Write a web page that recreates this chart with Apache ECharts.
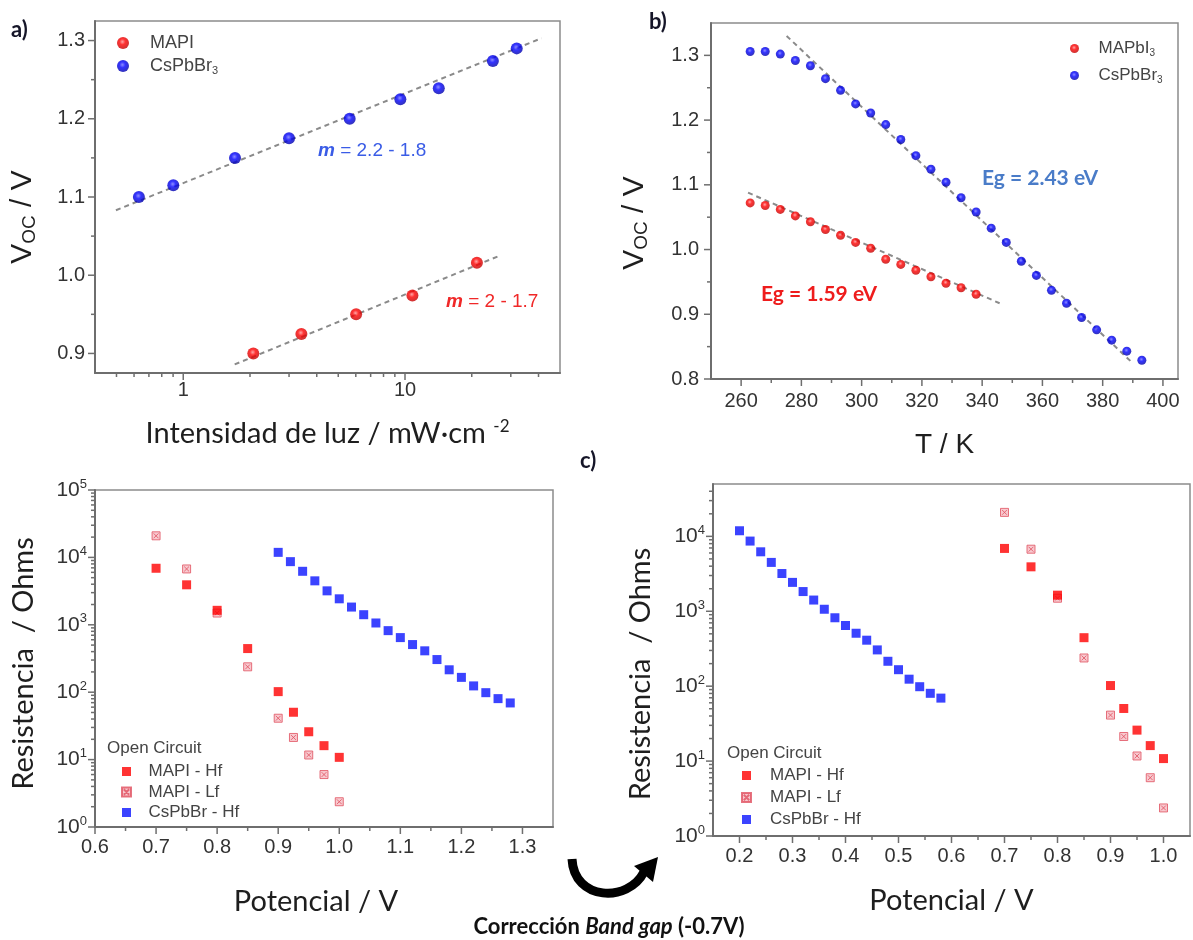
<!DOCTYPE html>
<html><head><meta charset="utf-8">
<script src="https://cdn.jsdelivr.net/npm/echarts@6/dist/echarts.min.js"></script>
<style>html,body{margin:0;padding:0;background:#fff}#c{width:1193px;height:940px}</style>
</head><body><div id="c"></div>
<script>
// ---------------- DATA ----------------
// a) Voc vs light intensity
const A_MAPI_X = [2.07, 3.41, 6.02, 10.8, 21.1];
const A_MAPI_Y = [0.900, 0.925, 0.950, 0.974, 1.016];
const A_CS_X = [0.631, 0.902, 1.712, 3.00, 5.63, 9.53, 14.2, 24.9, 31.9];
const A_CS_Y = [1.100, 1.115, 1.150, 1.175, 1.200, 1.225, 1.239, 1.274, 1.290];
const A_FIT_MAPI = [[1.706, 0.886], [27.0, 1.0255]];
const A_FIT_CS = [[0.497, 1.083], [41.3, 1.303]];

// b) Voc vs temperature
const B_T_CS = [263, 268, 273, 278, 283, 288, 293, 298, 303, 308, 313, 318, 323, 328, 333, 338, 343, 348, 353, 358, 363, 368, 373, 378, 383, 388, 393];
const B_CS = [1.306, 1.306, 1.302, 1.292, 1.284, 1.264, 1.246, 1.225, 1.211, 1.193, 1.170, 1.145, 1.124, 1.104, 1.080, 1.058, 1.033, 1.011, 0.982, 0.960, 0.937, 0.917, 0.895, 0.876, 0.860, 0.843, 0.829];
const B_T_MAPI = [263, 268, 273, 278, 283, 288, 293, 298, 303, 308, 313, 318, 323, 328, 333, 338];
const B_MAPI = [1.072, 1.068, 1.062, 1.052, 1.043, 1.031, 1.022, 1.011, 1.002, 0.985, 0.977, 0.968, 0.958, 0.948, 0.941, 0.931];
const B_FIT_CS = [[275.1, 1.330], [389.4, 0.827]];
const B_FIT_MAPI = [[262.3, 1.088], [345.8, 0.917]];

// c) Resistance vs potential
const C_MAPI_V = [0.70, 0.75, 0.80, 0.85, 0.90, 0.925, 0.95, 0.975, 1.00];
const C_MAPI_HF = [6900, 3920, 1640, 444, 102, 50.4, 25.9, 16.1, 10.8];
const C_MAPI_LF = [20900, 6740, 1494, 238, 41.1, 21.3, 11.7, 6.0, 2.37];
const C_CS_V = [0.90, 0.92, 0.94, 0.96, 0.98, 1.00, 1.02, 1.04, 1.06, 1.08, 1.10, 1.12, 1.14, 1.16, 1.18, 1.20, 1.22, 1.24, 1.26, 1.28];
const C_CS_HF = [11880, 8650, 6220, 4490, 3190, 2430, 1833, 1412, 1064, 819, 646, 509, 411, 305, 215, 166, 124, 98.4, 80.3, 69.3];
const BAND_GAP_SHIFT = 0.7; // "Corrección Band gap (-0.7V)"

// tick values
const A_X_MAJOR = [1, 10];
const A_X_MINOR = [0.5, 0.6, 0.7, 0.8, 0.9, 2, 3, 4, 5, 6, 7, 8, 9, 20, 30, 40];
const A_Y_MAJOR = [0.9, 1.0, 1.1, 1.2, 1.3];
const A_Y_MINOR = [0.95, 1.05, 1.15, 1.25];
const B_X_MAJOR = [260, 280, 300, 320, 340, 360, 380, 400];
const B_X_MINOR = [270, 290, 310, 330, 350, 370, 390];
const B_Y_MAJOR = [0.8, 0.9, 1.0, 1.1, 1.2, 1.3];
const B_Y_MINOR = [0.85, 0.95, 1.05, 1.15, 1.25];
const C1_X_MAJOR = [0.6, 0.7, 0.8, 0.9, 1.0, 1.1, 1.2, 1.3];
const C1_X_MINOR = [0.65, 0.75, 0.85, 0.95, 1.05, 1.15, 1.25];
const C2_X_MAJOR = [0.2, 0.3, 0.4, 0.5, 0.6, 0.7, 0.8, 0.9, 1.0];
const C2_X_MINOR = [0.25, 0.35, 0.45, 0.55, 0.65, 0.75, 0.85, 0.95];
const C1_Y_MAJOR = [1, 10, 100, 1000, 10000, 100000];
const C2_Y_MAJOR = [1, 10, 100, 1000, 10000];
const LOG_MINOR_MULT = [2, 3, 4, 5, 6, 7, 8, 9];
const C1_Y_MINOR = [1, 10, 100, 1000, 10000].flatMap(d => LOG_MINOR_MULT.map(m => m * d));
const C2_Y_MINOR = [1, 10, 100, 1000].flatMap(d => LOG_MINOR_MULT.map(m => m * d)).concat([20000, 30000, 40000]);

// axis ranges
const A_XR = [0.4, 50], A_YR = [0.875, 1.325];
const B_XR = [250, 405], B_YR = [0.8, 1.35];
const C1_XR = [0.6, 1.35], C1_YR = [1, 100000];
const C2_XR = [0.15, 1.05], C2_YR = [1, 50000];

// ---------------- STYLE ----------------
const ARIAL = '"Liberation Sans", Arial, sans-serif';
const CAL = 'Lato, "Open Sans", sans-serif';
const AX = '#6e6e6e';
const LBL = '#333';
const TITLE = '#1e1e1e';

const zip = (xs, ys) => xs.map((x, i) => [x, ys[i]]);
const sphere = (hi, mid, dark) => ({type: 'radial', x: 0.45, y: 0.4, r: 0.6,
  colorStops: [{offset: 0, color: hi}, {offset: 0.4, color: mid}, {offset: 1, color: dark}]});
const RED_SPH = sphere('#ff9090', '#ff0000', '#c00000');
const BLUE_SPH = sphere('#7070ff', '#0000ff', '#0000a8');

const dec1 = v => (Math.abs(v * 10 - Math.round(v * 10)) < 1e-6 ? v.toFixed(1) : '');
const pow10Label = v => { const e = Math.log10(v), r = Math.round(e); return Math.abs(e - r) < 1e-6 ? '{b|10}{s|' + r + '}' : ''; };
const LOG_RICH = {b: {fontSize: 21, fontFamily: ARIAL, color: LBL}, s: {fontSize: 13, fontFamily: ARIAL, color: LBL, padding: [0, 0, 12, 0]}};

function axis(o) {
  return Object.assign({
    axisLine: {show: true, onZero: false, lineStyle: {color: AX, width: 2}},
    axisTick: {show: false}, splitLine: {show: false}, minorTick: {show: false},
    nameLocation: 'middle'
  }, o, {
    axisLabel: Object.assign({color: LBL, fontFamily: ARIAL, fontSize: 20, interval: 0}, o.axisLabel || {})
  });
}

function tickSeries(idx, xMaj, xMin, yMaj, yMin, xr, yr) {
  const d = [];
  xMaj.forEach(v => d.push([v, yr[0], 7, 0]));
  xMin.forEach(v => d.push([v, yr[0], 4, 0]));
  yMaj.forEach(v => d.push([xr[0], v, 7, 1]));
  yMin.forEach(v => d.push([xr[0], v, 4, 1]));
  return {
    type: 'custom', xAxisIndex: idx, yAxisIndex: idx, silent: true, clip: false, z: 4,
    data: d,
    renderItem: (p, api) => {
      const c = api.coord([api.value(0), api.value(1)]);
      const L = api.value(2), onX = api.value(3) === 0;
      return {type: 'line',
        shape: onX ? {x1: c[0], y1: c[1], x2: c[0], y2: c[1] + L} : {x1: c[0], y1: c[1], x2: c[0] - L, y2: c[1]},
        style: {stroke: AX, lineWidth: 1.5}};
    }
  };
}

const fitLine = (idx, pts) => ({type: 'line', xAxisIndex: idx, yAxisIndex: idx, data: pts, symbol: 'none', silent: true, z: 2,
  lineStyle: {color: '#8a8a8a', width: 2, type: [5, 4]}});

const SQ_SYMBOL = 'path://M0,0L10,0L10,10L0,10Z';
const LF_SYMBOL = 'path://M0,0L10,0L10,10L0,10Z M2,2L8,8 M8,2L2,8';
const HF_STYLE = {color: '#ff0000'};
const LF_STYLE = {color: '#f6bcc3', borderColor: '#e0505f', borderWidth: 1};
const CS_STYLE = {color: '#0a14ff'};

const LEGEND_TEXT = {
  'MAPI': '{n|MAPI}', 'CsPbBr3': '{n|CsPbBr}{s|3}',
  'MAPbI3': '{n|MAPbI}{s|3}', 'CsPbBr3 (T)': '{n|CsPbBr}{s|3}'
};
const legRich = (fs) => ({n: {fontSize: fs, fontFamily: ARIAL, color: '#444'},
  s: {fontSize: Math.round(fs * 0.6), fontFamily: ARIAL, color: '#444', padding: [Math.round(fs * 0.55), 0, 0, 0]}});
const VOC_RICH = {v: {fontFamily: ARIAL, fontSize: 30, color: TITLE}, s: {fontFamily: ARIAL, fontSize: 19, color: TITLE, padding: [13, 0, 0, 0]}};

const option = {
  animation: false,
  backgroundColor: '#fff',
  grid: [
    {left: 95, top: 21, width: 465, height: 352, show: true, borderColor: '#8c8c8c', borderWidth: 1.5},
    {left: 711, top: 23, width: 467, height: 356, show: true, borderColor: '#8c8c8c', borderWidth: 1.5},
    {left: 95, top: 490, width: 458, height: 337, show: true, borderColor: '#8c8c8c', borderWidth: 1.5},
    {left: 713, top: 484, width: 479, height: 352, show: true, borderColor: '#8c8c8c', borderWidth: 1.5}
  ],
  xAxis: [
    axis({gridIndex: 0, type: 'log', logBase: 10, min: A_XR[0], max: A_XR[1],
      axisLabel: {margin: 7, formatter: v => { const e = Math.log10(v), r = Math.round(e); return (Math.abs(e - r) < 1e-6 && (r === 0 || r === 1)) ? String(Math.round(Math.pow(10, r))) : ''; }},
      name: 'Intensidad de luz / mW·cm {sup|-2}', nameGap: 45,
      nameTextStyle: {fontFamily: CAL, fontSize: 29, color: TITLE, rich: {sup: {fontFamily: CAL, fontSize: 17, color: TITLE, padding: [0, 0, 14, 0]}}}}),
    axis({gridIndex: 1, type: 'value', min: B_XR[0], max: B_XR[1], interval: 10,
      axisLabel: {margin: 12, formatter: v => (Math.abs(v % 20) < 1e-6 && v >= 260 && v <= 400 ? String(Math.round(v)) : '')},
      name: 'T / K', nameGap: 52, nameTextStyle: {fontFamily: ARIAL, fontSize: 28, color: TITLE}}),
    axis({gridIndex: 2, type: 'value', min: C1_XR[0], max: C1_XR[1], interval: 0.05,
      axisLabel: {margin: 10, formatter: dec1},
      name: 'Potencial / V', nameGap: 60, nameTextStyle: {fontFamily: CAL, fontSize: 29, color: TITLE, padding: [0, 16, 0, 0]}}),
    axis({gridIndex: 3, type: 'value', min: C2_XR[0], max: C2_XR[1], interval: 0.05,
      axisLabel: {margin: 10, formatter: dec1},
      name: 'Potencial / V', nameGap: 50, nameTextStyle: {fontFamily: CAL, fontSize: 29, color: TITLE}})
  ],
  yAxis: [
    axis({gridIndex: 0, type: 'value', min: A_YR[0], max: A_YR[1], interval: 0.025,
      axisLabel: {margin: 10, formatter: dec1},
      name: '{v|V}{s|OC}{v| / V}', nameGap: 56,
      nameTextStyle: {padding: [0, 40, 0, 0], rich: VOC_RICH}}),
    axis({gridIndex: 1, type: 'value', min: B_YR[0], max: B_YR[1], interval: 0.1,
      axisLabel: {margin: 12, formatter: dec1},
      name: '{v|V}{s|OC}{v| / V}', nameGap: 60,
      nameTextStyle: {padding: [0, 44, 0, 0], rich: VOC_RICH}}),
    axis({gridIndex: 2, type: 'log', logBase: 10, min: C1_YR[0], max: C1_YR[1],
      axisLabel: {margin: 8, formatter: pow10Label, rich: LOG_RICH},
      name: 'Resistencia  / Ohms', nameGap: 57, nameTextStyle: {fontFamily: CAL, fontSize: 29, color: TITLE, padding: [0, 10, 0, 0]}}),
    axis({gridIndex: 3, type: 'log', logBase: 10, min: C2_YR[0], max: C2_YR[1],
      axisLabel: {margin: 8, formatter: pow10Label, rich: LOG_RICH},
      name: 'Resistencia  / Ohms', nameGap: 58, nameTextStyle: {fontFamily: CAL, fontSize: 29, color: TITLE, padding: [0, 28, 0, 0]}})
  ],
  legend: [
    {left: 112, top: 29, orient: 'vertical', itemWidth: 44, itemHeight: 12, itemGap: 5, selectedMode: false,
      data: ['MAPI', 'CsPbBr3'], formatter: n => LEGEND_TEXT[n], textStyle: {fontSize: 18, fontFamily: ARIAL, color: '#444', rich: legRich(18)}},
    {left: 1065, top: 35, orient: 'vertical', itemWidth: 38, itemHeight: 9, itemGap: 9, selectedMode: false,
      data: ['MAPbI3', 'CsPbBr3 (T)'], formatter: n => LEGEND_TEXT[n], textStyle: {fontSize: 17, fontFamily: ARIAL, color: '#444', rich: legRich(17)}},
    {left: 116, top: 758, orient: 'vertical', itemWidth: 34, itemHeight: 9, itemGap: 3.5, selectedMode: false,
      data: ['MAPI - Hf', 'MAPI - Lf', 'CsPbBr - Hf'], textStyle: {fontSize: 17, fontFamily: ARIAL, color: '#444'}},
    {left: 736, top: 762, orient: 'vertical', itemWidth: 37, itemHeight: 9, itemGap: 5, selectedMode: false,
      data: ['MAPI - Hf', 'MAPI - Lf', 'CsPbBr - Hf'], textStyle: {fontSize: 17, fontFamily: ARIAL, color: '#444'}}
  ],
  series: [
    // a)
    fitLine(0, A_FIT_MAPI), fitLine(0, A_FIT_CS),
    {name: 'MAPI', type: 'scatter', xAxisIndex: 0, yAxisIndex: 0, data: zip(A_MAPI_X, A_MAPI_Y), symbolSize: 12, itemStyle: {color: RED_SPH}, z: 3},
    {name: 'CsPbBr3', type: 'scatter', xAxisIndex: 0, yAxisIndex: 0, data: zip(A_CS_X, A_CS_Y), symbolSize: 12, itemStyle: {color: BLUE_SPH}, z: 3},
    tickSeries(0, A_X_MAJOR, A_X_MINOR, A_Y_MAJOR, A_Y_MINOR, A_XR, A_YR),
    // b)
    fitLine(1, B_FIT_MAPI), fitLine(1, B_FIT_CS),
    {name: 'MAPbI3', type: 'scatter', xAxisIndex: 1, yAxisIndex: 1, data: zip(B_T_MAPI, B_MAPI), symbolSize: 9, itemStyle: {color: RED_SPH}, z: 3},
    {name: 'CsPbBr3 (T)', type: 'scatter', xAxisIndex: 1, yAxisIndex: 1, data: zip(B_T_CS, B_CS), symbolSize: 9, itemStyle: {color: BLUE_SPH}, z: 3},
    tickSeries(1, B_X_MAJOR, B_X_MINOR, B_Y_MAJOR, B_Y_MINOR, B_XR, B_YR),
    // c) left
    {name: 'MAPI - Lf', type: 'scatter', xAxisIndex: 2, yAxisIndex: 2, data: zip(C_MAPI_V, C_MAPI_LF), symbol: LF_SYMBOL, symbolSize: 8, symbolKeepAspect: true, itemStyle: LF_STYLE, z: 3},
    {name: 'MAPI - Hf', type: 'scatter', xAxisIndex: 2, yAxisIndex: 2, data: zip(C_MAPI_V, C_MAPI_HF), symbol: SQ_SYMBOL, symbolSize: 9, symbolKeepAspect: true, itemStyle: HF_STYLE, z: 3},
    {name: 'CsPbBr - Hf', type: 'scatter', xAxisIndex: 2, yAxisIndex: 2, data: zip(C_CS_V, C_CS_HF), symbol: SQ_SYMBOL, symbolSize: 9, symbolKeepAspect: true, itemStyle: CS_STYLE, z: 3},
    tickSeries(2, C1_X_MAJOR, C1_X_MINOR, C1_Y_MAJOR, C1_Y_MINOR, C1_XR, C1_YR),
    // c) right (band-gap corrected)
    {name: 'MAPI - Lf', type: 'scatter', xAxisIndex: 3, yAxisIndex: 3, data: zip(C_MAPI_V, C_MAPI_LF), symbol: LF_SYMBOL, symbolSize: 8, symbolKeepAspect: true, itemStyle: LF_STYLE, z: 3},
    {name: 'MAPI - Hf', type: 'scatter', xAxisIndex: 3, yAxisIndex: 3, data: zip(C_MAPI_V, C_MAPI_HF), symbol: SQ_SYMBOL, symbolSize: 9, symbolKeepAspect: true, itemStyle: HF_STYLE, z: 3},
    {name: 'CsPbBr - Hf', type: 'scatter', xAxisIndex: 3, yAxisIndex: 3, data: zip(C_CS_V.map(v => +(v - BAND_GAP_SHIFT).toFixed(3)), C_CS_HF), symbol: SQ_SYMBOL, symbolSize: 9, symbolKeepAspect: true, itemStyle: CS_STYLE, z: 3},
    tickSeries(3, C2_X_MAJOR, C2_X_MINOR, C2_Y_MAJOR, C2_Y_MINOR, C2_XR, C2_YR)
  ],
  graphic: [
    {type: 'text', x: 11, y: 30, style: {text: 'a)', font: 'bold 22px Lato', fill: '#151528', verticalAlign: 'middle'}},
    {type: 'text', x: 649, y: 22, style: {text: 'b)', font: 'bold 22px Lato', fill: '#151528', verticalAlign: 'middle'}},
    {type: 'text', x: 580, y: 461, style: {text: 'c)', font: 'bold 22px Lato', fill: '#151528', verticalAlign: 'middle'}},
    {type: 'text', x: 318, y: 151, style: {text: '{m|m}{t| = 2.2 - 1.8}', verticalAlign: 'middle',
      rich: {m: {font: 'italic bold 19px "Liberation Sans"', fill: '#3a5ce6'}, t: {font: '19px "Liberation Sans"', fill: '#3a5ce6'}}}},
    {type: 'text', x: 446, y: 302, style: {text: '{m|m}{t| = 2 - 1.7}', verticalAlign: 'middle',
      rich: {m: {font: 'italic bold 19px "Liberation Sans"', fill: '#f02828'}, t: {font: '19px "Liberation Sans"', fill: '#f02828'}}}},
    {type: 'text', x: 982, y: 178, style: {text: 'Eg = 2.43 eV', font: 'bold 21px Lato', fill: '#4a7cc8', verticalAlign: 'middle'}},
    {type: 'text', x: 761, y: 294, style: {text: 'Eg = 1.59 eV', font: 'bold 21px Lato', fill: '#ee1c1c', verticalAlign: 'middle'}},
    {type: 'text', x: 107, y: 748, style: {text: 'Open Circuit', font: '17px "Liberation Sans"', fill: '#444', verticalAlign: 'middle'}},
    {type: 'text', x: 727, y: 753, style: {text: 'Open Circuit', font: '17px "Liberation Sans"', fill: '#444', verticalAlign: 'middle'}},
    {type: 'bezierCurve', shape: {x1: 572, y1: 859, cpx1: 574, cpy1: 901, cpx2: 628, cpy2: 903, x2: 644, y2: 872}, style: {stroke: '#000', lineWidth: 9, fill: null}},
    {type: 'polygon', shape: {points: [[634, 866], [658, 857], [653, 882]]}, style: {fill: '#000'}},
    {type: 'text', x: 609, y: 927, style: {text: '{b|Corrección }{i|Band gap}{b| (-0.7V)}', align: 'center', verticalAlign: 'middle',
      rich: {b: {font: 'bold 22px Lato', fill: '#111'}, i: {font: 'italic bold 22px Lato', fill: '#111'}}}}
  ]
};

const chart = echarts.init(document.getElementById('c'), null, {renderer: 'canvas'});
chart.setOption(option);
</script></body></html>
